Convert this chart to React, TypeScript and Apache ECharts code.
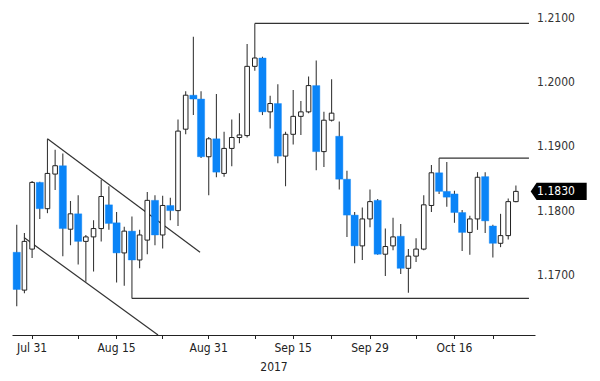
import React, { useEffect, useRef } from 'react';
import * as echarts from 'echarts';

// Business-day categories (two trailing empty days give the right-hand margin)
const dates = [
  '2017-07-27', '2017-07-28', '2017-07-31',
  '2017-08-01', '2017-08-02', '2017-08-03', '2017-08-04',
  '2017-08-07', '2017-08-08', '2017-08-09', '2017-08-10', '2017-08-11',
  '2017-08-14', '2017-08-15', '2017-08-16', '2017-08-17', '2017-08-18',
  '2017-08-21', '2017-08-22', '2017-08-23', '2017-08-24', '2017-08-25',
  '2017-08-28', '2017-08-29', '2017-08-30', '2017-08-31',
  '2017-09-01', '2017-09-04', '2017-09-05', '2017-09-06', '2017-09-07', '2017-09-08',
  '2017-09-11', '2017-09-12', '2017-09-13', '2017-09-14', '2017-09-15',
  '2017-09-18', '2017-09-19', '2017-09-20', '2017-09-21', '2017-09-22',
  '2017-09-25', '2017-09-26', '2017-09-27', '2017-09-28', '2017-09-29',
  '2017-10-02', '2017-10-03', '2017-10-04', '2017-10-05', '2017-10-06',
  '2017-10-09', '2017-10-10', '2017-10-11', '2017-10-12', '2017-10-13',
  '2017-10-16', '2017-10-17', '2017-10-18', '2017-10-19', '2017-10-20',
  '2017-10-23', '2017-10-24', '2017-10-25', '2017-10-26', '2017-10-27',
  '2017-10-30',
];

const opens = [
  1.1735, 1.1676, 1.1740, 1.1844, 1.1803, 1.1857, 1.1870, 1.1771, 1.1795, 1.1752,
  1.1759, 1.1772, 1.1809, 1.1781, 1.1734, 1.1768, 1.1723, 1.1754, 1.1816, 1.1762,
  1.1808, 1.1800, 1.1927, 1.1980, 1.1974, 1.1884, 1.1912, 1.1858, 1.1897, 1.1914,
  1.1917, 1.2025, 1.2038, 1.1954, 1.1967, 1.1885, 1.1919, 1.1947, 1.1954, 1.1995,
  1.1892, 1.1941, 1.1916, 1.1849, 1.1793, 1.1745, 1.1787, 1.1816, 1.1732, 1.1745,
  1.1760, 1.1710, 1.1729, 1.1740, 1.1808, 1.1859, 1.1830, 1.1826, 1.1797, 1.1766,
  1.1787, 1.1853, 1.1776, 1.1749, 1.1761, 1.1814,
];
const closes = [
  1.1677, 1.1752, 1.1844, 1.1803, 1.1858, 1.1870, 1.1772, 1.1795, 1.1752, 1.1759,
  1.1772, 1.1822, 1.1780, 1.1734, 1.1768, 1.1723, 1.1762, 1.1816, 1.1762, 1.1808,
  1.1800, 1.1924, 1.1980, 1.1974, 1.1884, 1.1912, 1.1860, 1.1897, 1.1914, 1.1918,
  1.2025, 1.2038, 1.1954, 1.1967, 1.1885, 1.1919, 1.1947, 1.1954, 1.1995, 1.1892,
  1.1941, 1.1952, 1.1849, 1.1793, 1.1745, 1.1787, 1.1814, 1.1732, 1.1744, 1.1759,
  1.1710, 1.1729, 1.1740, 1.1809, 1.1859, 1.1830, 1.1821, 1.1797, 1.1766, 1.1787,
  1.1852, 1.1784, 1.1749, 1.1761, 1.1814, 1.1830,
];
const highs = [
  1.1778, 1.1765, 1.1846, 1.1845, 1.1912, 1.1895, 1.1889, 1.1815, 1.1824, 1.1762,
  1.1785, 1.1848, 1.1838, 1.1798, 1.1775, 1.1791, 1.1770, 1.1829, 1.1824, 1.1823,
  1.1820, 1.1942, 1.1986, 1.2071, 1.1986, 1.1915, 1.1982, 1.1923, 1.1942, 1.1952,
  1.2060, 1.2092, 1.2040, 1.1979, 1.1997, 1.1923, 1.1988, 1.1971, 1.2009, 1.2034,
  1.1954, 1.2005, 1.1939, 1.1862, 1.1798, 1.1805, 1.1833, 1.1818, 1.1772, 1.1789,
  1.1779, 1.1740, 1.1757, 1.1824, 1.1871, 1.1882, 1.1876, 1.1831, 1.1801, 1.1792,
  1.1860, 1.1860, 1.1778, 1.1795, 1.1819, 1.1839,
];
const lows = [
  1.1651, 1.1671, 1.1726, 1.1787, 1.1796, 1.1832, 1.1729, 1.1746, 1.1716, 1.1689,
  1.1705, 1.1752, 1.1770, 1.1688, 1.1683, 1.1663, 1.1710, 1.1732, 1.1746, 1.1741,
  1.1785, 1.1776, 1.1919, 1.1949, 1.1882, 1.1824, 1.1852, 1.1853, 1.1869, 1.1905,
  1.1914, 1.2018, 1.1949, 1.1928, 1.1874, 1.1838, 1.1903, 1.1918, 1.1952, 1.1863,
  1.1868, 1.1939, 1.1833, 1.1759, 1.1718, 1.1723, 1.1774, 1.1731, 1.1698, 1.1738,
  1.1701, 1.1672, 1.1720, 1.1738, 1.1798, 1.1826, 1.1806, 1.1781, 1.1737, 1.1731,
  1.1770, 1.1765, 1.1727, 1.1743, 1.1755, 1.1813,
];

const tickDates = [
  '2017-07-31', '2017-08-08', '2017-08-15', '2017-08-23', '2017-08-31', '2017-09-08',
  '2017-09-15', '2017-09-22', '2017-09-29', '2017-10-09', '2017-10-16', '2017-10-23',
];
const labelDates = ['2017-07-31', '2017-08-15', '2017-08-31', '2017-09-15', '2017-09-29', '2017-10-16'];
const yTicks = [1.17, 1.18, 1.19, 1.2, 1.21];
const yearLabel = '2017';
const lastPrice = 1.183;

// Drawn trend / level lines: [category index, price] pairs
const trendLines: [number, number][][] = [
  [[31, 1.2092], [66.7, 1.2092]],
  [[55, 1.1882], [66.7, 1.1882]],
  [[15, 1.1663], [66.7, 1.1663]],
  [[4, 1.1912], [23.87, 1.1735]],
  [[0.95, 1.1758], [18.4, 1.1606]],
];

const MONTHS = ['Jan', 'Feb', 'Mar', 'Apr', 'May', 'Jun', 'Jul', 'Aug', 'Sep', 'Oct', 'Nov', 'Dec'];
const FONT = "'Liberation Sans Narrow', 'DejaVu Sans Condensed', 'Liberation Sans', sans-serif";
const BLUE = '#0a84f7';

export default function App() {
  const ref = useRef<HTMLDivElement>(null);
  useEffect(() => {
    if (!ref.current) return;
    const chart = echarts.init(ref.current, undefined, { renderer: 'svg' });
    const candleData = opens.map((o, i) => [i, o, closes[i], lows[i], highs[i]]);
    const gridLeft = 12.9;
    const gridRight = 64.9;
    const yMin = 1.1606;
    const yMax = 1.2116;
    const option: any = {
      animation: false,
      backgroundColor: '#ffffff',
      grid: { left: gridLeft, right: gridRight, top: 8, bottom: 46, containLabel: false },
      xAxis: [
        {
          type: 'category',
          data: dates,
          boundaryGap: true,
          axisLine: { show: true, lineStyle: { color: '#222', width: 1 } },
          axisTick: {
            show: true,
            alignWithLabel: true,
            length: 4,
            interval: (_i: number, v: string) => tickDates.includes(v),
            lineStyle: { color: '#222' },
          },
          axisLabel: {
            interval: (_i: number, v: string) => labelDates.includes(v),
            formatter: (v: string) => {
              const [, m, d] = v.split('-');
              return MONTHS[parseInt(m, 10) - 1] + ' ' + parseInt(d, 10);
            },
            color: '#222',
            fontFamily: FONT,
            fontSize: 12,
            margin: 7,
          },
          splitLine: { show: false },
          name: yearLabel,
          nameLocation: 'middle',
          nameGap: 26,
          nameTextStyle: { color: '#222', fontFamily: FONT, fontSize: 12 },
        },
        { type: 'value', min: -0.5, max: dates.length - 0.5, show: false },
      ],
      yAxis: {
        type: 'value',
        position: 'right',
        min: yMin,
        max: yMax,
        axisLine: { show: false },
        axisTick: { show: false },
        splitLine: { show: false },
        axisLabel: {
          customValues: yTicks,
          formatter: (v: number) => v.toFixed(4),
          color: '#333',
          fontFamily: FONT,
          fontSize: 12,
          margin: 2,
        },
      },
      series: [
        ...trendLines.map((pts) => ({
          type: 'line',
          xAxisIndex: 1,
          data: pts,
          symbol: 'none',
          silent: true,
          lineStyle: { color: '#333', width: 1.2 },
          z: 1,
        })),
        {
          type: 'custom',
          xAxisIndex: 0,
          data: candleData,
          encode: { x: 0, y: [1, 2, 3, 4] },
          z: 3,
          renderItem: (_params: any, api: any) => {
            const idx = api.value(0);
            const o = api.value(1);
            const c = api.value(2);
            const l = api.value(3);
            const h = api.value(4);
            const pO = api.coord([idx, o]);
            const pC = api.coord([idx, c]);
            const pL = api.coord([idx, l]);
            const pH = api.coord([idx, h]);
            const x = pO[0];
            const up = c >= o;
            const top = Math.min(pO[1], pC[1]);
            const bot = Math.max(pO[1], pC[1]);
            const bw = up ? 4.6 : 7.2;
            const bh = Math.max(bot - top, 1);
            return {
              type: 'group',
              children: [
                {
                  type: 'line',
                  shape: { x1: x, y1: pH[1], x2: x, y2: pL[1] },
                  style: { stroke: '#3a3a3a', lineWidth: 1.1 },
                },
                {
                  type: 'rect',
                  shape: { x: x - bw / 2, y: top, width: bw, height: bh },
                  style: up
                    ? { fill: '#ffffff', stroke: '#222', lineWidth: 1 }
                    : { fill: BLUE, stroke: BLUE, lineWidth: 0.4 },
                },
              ],
            };
          },
        },
      ],
    };
    chart.setOption(option);
    const yPix = chart.convertToPixel({ yAxisIndex: 0 }, lastPrice) as number;
    const xEdge = 600 - gridRight;
    chart.setOption({
      graphic: [
        {
          type: 'polygon',
          shape: {
            points: [
              [xEdge - 4.4, yPix],
              [xEdge + 1.5, yPix - 8.6],
              [xEdge + 51.6, yPix - 8.6],
              [xEdge + 51.6, yPix + 8.6],
              [xEdge + 1.5, yPix + 8.6],
            ],
          },
          style: { fill: '#000' },
          z: 10,
        },
        {
          type: 'text',
          x: xEdge + 2,
          y: yPix,
          style: {
            text: lastPrice.toFixed(4),
            fill: '#fff',
            font: `12px ${FONT}`,
            verticalAlign: 'middle',
            align: 'left',
          },
          z: 11,
        },
      ],
    });
    return () => chart.dispose();
  }, []);
  return (
    <div
      ref={ref}
      style={{ position: 'fixed', left: 0, top: 0, width: 600, height: 381, background: '#fff' }}
    />
  );
}
